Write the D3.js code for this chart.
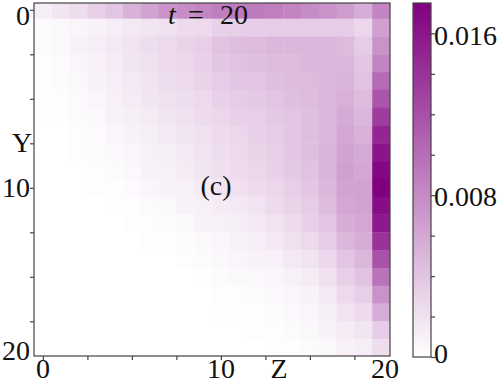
<!DOCTYPE html>
<html>
<head>
<meta charset="utf-8">
<script src="https://cdn.jsdelivr.net/npm/d3@7"></script>
<style>
  html, body { margin: 0; padding: 0; background: #fff; }
  svg { display: block; }
  text { font-family: "Liberation Serif", "DejaVu Serif", serif; fill: #111; }
</style>
</head>
<body>
<div id="chart"></div>
<script>
// Heatmap snapshot at t = 20, values in units of 1e-3
const zIndex = d3.range(20);
const yIndex = d3.range(20);
const valueUnit = 1e-3;

const row00 = [1.2, 1.8, 2.3, 3.2, 4.0, 5.3, 6.3, 7.4, 7.9, 8.4, 8.8, 9.1, 9.1, 8.8, 8.4, 7.9, 7.4, 6.7, 5.6, 8.4];
const row01 = [0.35, 0.5, 0.7, 0.9, 1.2, 1.6, 1.8, 2.1, 2.5, 2.6, 3.2, 3.3, 3.5, 3.5, 3.5, 3.5, 3.5, 3.5, 2.8, 6.5];
const row02 = [0.35, 0.5, 0.9, 1.2, 1.6, 1.9, 2.3, 2.6, 3.0, 3.3, 4.2, 4.5, 4.7, 4.9, 4.9, 4.9, 4.9, 4.7, 3.5, 7.4];
const row03 = [0.2, 0.35, 0.7, 1.0, 1.4, 1.8, 2.1, 2.5, 2.8, 3.2, 3.9, 4.2, 4.4, 4.6, 4.7, 4.9, 4.9, 4.9, 3.9, 8.4];
const row04 = [0.2, 0.35, 0.5, 0.9, 1.2, 1.6, 1.9, 2.3, 2.6, 3.0, 3.5, 3.9, 4.0, 4.4, 4.6, 4.7, 4.9, 5.1, 4.2, 10.2];
const row05 = [0.05, 0.2, 0.35, 0.7, 1.0, 1.4, 1.8, 2.1, 2.3, 2.6, 3.2, 3.5, 3.7, 4.0, 4.4, 4.6, 4.9, 5.4, 4.6, 11.6];
const row06 = [0.05, 0.2, 0.35, 0.5, 0.9, 1.1, 1.4, 1.8, 2.1, 2.5, 2.8, 3.2, 3.3, 3.7, 4.0, 4.4, 4.9, 5.8, 4.9, 13.3];
const row07 = [0, 0, 0.2, 0.35, 0.7, 0.9, 1.2, 1.6, 1.8, 2.1, 2.5, 2.8, 3.2, 3.5, 3.9, 4.4, 4.9, 6.1, 5.4, 14.9];
const row08 = [0, 0, 0.2, 0.35, 0.5, 0.7, 1.0, 1.2, 1.6, 1.9, 2.3, 2.6, 3.0, 3.3, 3.9, 4.4, 5.1, 6.3, 5.8, 16.1];
const row09 = [0, 0, 0, 0.2, 0.35, 0.5, 0.9, 1.0, 1.4, 1.8, 2.1, 2.5, 2.8, 3.2, 3.7, 4.2, 5.1, 6.5, 6.0, 17.1];
const row10 = [0, 0, 0, 0.2, 0.2, 0.35, 0.7, 0.9, 1.0, 1.4, 1.8, 2.1, 2.5, 2.8, 3.3, 3.9, 4.9, 6.3, 6.3, 17.5];
const row11 = [0, 0, 0, 0, 0.2, 0.2, 0.35, 0.5, 0.9, 1.0, 1.4, 1.6, 1.9, 2.5, 3.0, 3.5, 4.6, 6.1, 6.3, 16.6];
const row12 = [0, 0, 0, 0, 0, 0.2, 0.2, 0.35, 0.5, 0.9, 1.0, 1.2, 1.6, 1.9, 2.5, 3.2, 4.0, 5.6, 6.1, 15.8];
const row13 = [0, 0, 0, 0, 0, 0, 0.2, 0.2, 0.35, 0.5, 0.7, 0.9, 1.2, 1.6, 2.1, 2.6, 3.5, 4.9, 5.6, 14.0];
const row14 = [0, 0, 0, 0, 0, 0, 0, 0, 0.2, 0.35, 0.5, 0.7, 0.9, 1.0, 1.6, 1.9, 2.8, 4.0, 4.9, 11.9];
const row15 = [0, 0, 0, 0, 0, 0, 0, 0, 0, 0.2, 0.35, 0.5, 0.5, 0.7, 1.0, 1.4, 2.1, 3.3, 4.2, 9.6];
const row16 = [0, 0, 0, 0, 0, 0, 0, 0, 0, 0, 0.2, 0.2, 0.35, 0.5, 0.7, 0.9, 1.6, 2.6, 3.3, 7.5];
const row17 = [0, 0, 0, 0, 0, 0, 0, 0, 0, 0, 0.1, 0.2, 0.2, 0.35, 0.5, 0.7, 1.2, 1.9, 2.5, 5.6];
const row18 = [0, 0, 0, 0, 0, 0, 0, 0, 0, 0, 0, 0, 0.2, 0.2, 0.35, 0.5, 0.9, 1.4, 1.8, 3.5];
const row19 = [0, 0, 0, 0, 0, 0, 0, 0, 0, 0, 0, 0, 0, 0.2, 0.2, 0.35, 0.5, 0.9, 1.2, 2.3];
const rows = [row00, row01, row02, row03, row04, row05, row06, row07, row08, row09,
              row10, row11, row12, row13, row14, row15, row16, row17, row18, row19];

const axisTicks = [0, 2.5, 5, 7.5, 10, 12.5, 15, 17.5];
const axisLabels = [0, 10, 20];
const colorMax = 0.0175;
const colorTicks = [0, 0.002, 0.004, 0.006, 0.008, 0.010, 0.012, 0.014, 0.016];
const colorLabels = [0, 0.008, 0.016];
const timeLabel = '20';
const panelLabel = '(c)';

const width = 503, height = 384;
const plot = { left: 34, right: 390, top: 3, bottom: 356 };
const bar = { left: 413, right: 431, top: 3, bottom: 357 };
const fontSize = 28;
const axisColor = '#444';

const svg = d3.select('#chart').append('svg')
    .attr('width', width)
    .attr('height', height);

const x = d3.scaleLinear().domain([-0.5, 19.5]).range([plot.left, plot.right]);
const y = d3.scaleLinear().domain([-0.5, 19.5]).range([0.9, 356.9]);
const color = d3.scaleSequential(d3.interpolateRgb('#ffffff', '#800080')).domain([0, colorMax]);

svg.append('clipPath').attr('id', 'plot-clip')
    .append('rect')
    .attr('x', plot.left).attr('y', plot.top)
    .attr('width', plot.right - plot.left)
    .attr('height', plot.bottom - plot.top);

const cells = [];
rows.forEach((row, i) => {
    row.forEach((v, j) => cells.push({ y: yIndex[i], z: zIndex[j], value: v * valueUnit }));
});

svg.append('g')
    .attr('clip-path', 'url(#plot-clip)')
    .selectAll('rect')
    .data(cells)
    .join('rect')
    .attr('x', d => x(d.z - 0.5))
    .attr('y', d => y(d.y - 0.5))
    .attr('width', d => x(d.z + 0.5) - x(d.z - 0.5) + 0.4)
    .attr('height', d => y(d.y + 0.5) - y(d.y - 0.5) + 0.4)
    .attr('fill', d => color(d.value));

// frame
svg.append('rect')
    .attr('x', plot.left).attr('y', plot.top)
    .attr('width', plot.right - plot.left)
    .attr('height', plot.bottom - plot.top)
    .attr('fill', 'none')
    .attr('stroke', axisColor)
    .attr('stroke-width', 1.2);

// tick marks
const xAxis = svg.append('g')
    .attr('transform', `translate(0, ${plot.bottom})`)
    .call(d3.axisBottom(x).tickValues(axisTicks).tickSize(4).tickFormat(''));
const yAxis = svg.append('g')
    .attr('transform', `translate(${plot.left}, 0)`)
    .call(d3.axisLeft(y).tickValues(axisTicks).tickSize(4).tickFormat(''));
[xAxis, yAxis].forEach(a => {
    a.select('.domain').remove();
    a.selectAll('line').attr('stroke', axisColor).attr('stroke-width', 1.2);
});

// tick labels (last label pulled inside the frame, as in the original)
svg.selectAll('.xlab')
    .data(axisLabels)
    .join('text')
    .attr('class', 'xlab')
    .attr('x', d => Math.min(x(d), 385))
    .attr('y', 378)
    .attr('text-anchor', 'middle')
    .attr('font-size', fontSize)
    .text(d => d);

svg.selectAll('.ylab')
    .data(axisLabels)
    .join('text')
    .attr('class', 'ylab')
    .attr('x', 30)
    .attr('y', d => Math.max(15, Math.min(y(d), 350)))
    .attr('dy', '0.34em')
    .attr('text-anchor', 'end')
    .attr('font-size', fontSize)
    .text(d => d);

svg.append('text')
    .attr('x', 279).attr('y', 378)
    .attr('text-anchor', 'middle')
    .attr('font-size', fontSize)
    .text('Z');

svg.append('text')
    .attr('x', 22).attr('y', 152)
    .attr('text-anchor', 'middle')
    .attr('font-size', fontSize)
    .text('Y');

// annotations
const tLabel = svg.append('g').attr('font-size', fontSize);
tLabel.append('text').attr('x', 168).attr('y', 24)
    .attr('font-style', 'italic').text('t');
tLabel.append('text').attr('x', 188).attr('y', 24)
    .attr('textLength', 19).text('=');
tLabel.append('text').attr('x', 220).attr('y', 24).text(timeLabel);

svg.append('text')
    .attr('x', 216).attr('y', 195)
    .attr('text-anchor', 'middle')
    .attr('font-size', fontSize)
    .text(panelLabel);

// colorbar
const grad = svg.append('defs').append('linearGradient')
    .attr('id', 'cbar')
    .attr('x1', 0).attr('y1', 1).attr('x2', 0).attr('y2', 0);
d3.range(0, 1.0001, 0.1).forEach(f => {
    grad.append('stop')
        .attr('offset', f)
        .attr('stop-color', color(f * colorMax));
});

const cy = d3.scaleLinear().domain([0, colorMax]).range([bar.bottom, bar.top]);

svg.append('rect')
    .attr('x', bar.left).attr('y', bar.top)
    .attr('width', bar.right - bar.left)
    .attr('height', bar.bottom - bar.top)
    .attr('fill', 'url(#cbar)')
    .attr('stroke', axisColor)
    .attr('stroke-width', 1.2);

const cAxis = svg.append('g')
    .attr('transform', `translate(${bar.right}, 0)`)
    .call(d3.axisRight(cy).tickValues(colorTicks).tickSize(4).tickFormat(''));
cAxis.select('.domain').remove();
cAxis.selectAll('line').attr('stroke', axisColor).attr('stroke-width', 1.2);

svg.selectAll('.clab')
    .data(colorLabels)
    .join('text')
    .attr('class', 'clab')
    .attr('x', bar.right + 3)
    .attr('y', d => Math.min(cy(d), 352))
    .attr('dy', '0.4em')
    .attr('font-size', fontSize)
    .text(d => d === 0 ? '0' : d3.format('.3f')(d));
</script>
</body>
</html>
